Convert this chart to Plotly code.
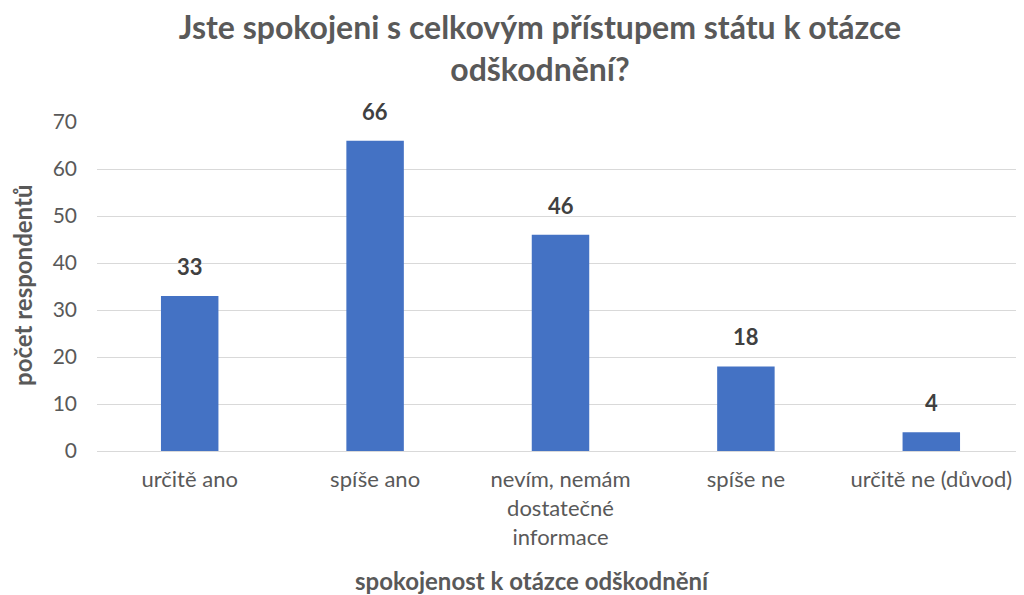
import plotly.graph_objects as go

categories = ["určitě ano", "spíše ano", "nevím, nemám<br>dostatečné<br>informace", "spíše ne", "určitě ne (důvod)"]
values = [33, 66, 46, 18, 4]
y_ticks = [0, 10, 20, 30, 40, 50, 60, 70]

FONT = "Lato, Roboto, Noto Sans, sans-serif"
GRAY = "#595959"

# the page body has an 8px margin, so the figure is 1016x587 and sits at (8, 8)
W, H = 1016, 587
L, T, B, R = 89, 114, 144, 0
PW, PH = W - L - R, H - T - B

fig = go.Figure(go.Bar(
    x=categories, y=values,
    marker=dict(color="#4472C4", line=dict(width=0)),
    hoverinfo="x+y",
))

for c, v in zip(categories, values):
    fig.add_annotation(
        x=c, y=v, xref="x", yref="y", text=str(v), showarrow=False,
        yanchor="bottom", yshift=14,
        font=dict(family=FONT, size=22, color="#404040", weight="bold"),
    )

fig.update_layout(
    width=W, height=H,
    paper_bgcolor="white", plot_bgcolor="white",
    margin=dict(l=L, r=R, t=T, b=B, autoexpand=False),
    bargap=0.69,
    showlegend=False,
    font=dict(family=FONT, color=GRAY),
    title=dict(
        text="Jste spokojeni s celkovým přístupem státu k otázce<br>odškodnění?",
        x=532 / W, xanchor="center", y=1 - 31 / H, yanchor="top",
        font=dict(family=FONT, size=32, color=GRAY, weight="bold"),
    ),
)

# axis titles
fig.add_annotation(
    text="počet respondentů", xref="paper", yref="paper",
    x=(14 - L) / PW, y=(443 - 278) / PH, xanchor="center", yanchor="middle",
    textangle=-90, showarrow=False,
    font=dict(family=FONT, size=24, color=GRAY, weight="bold"),
)
fig.add_annotation(
    text="spokojenost k otázce odškodnění", xref="paper", yref="paper",
    x=(524 - L) / PW, y=(443 - 572) / PH, xanchor="center", yanchor="middle",
    showarrow=False,
    font=dict(family=FONT, size=24, color=GRAY, weight="bold"),
)

fig.update_yaxes(
    range=[0, 70], tickvals=y_ticks, automargin=False,
    showgrid=True, gridcolor="#D9D9D9", gridwidth=1,
    zeroline=True, zerolinecolor="#D9D9D9", zerolinewidth=1,
    showline=False,
    tickfont=dict(family=FONT, size=21, color=GRAY),
    ticklabelstandoff=19,
)

fig.update_xaxes(
    automargin=False,
    showline=True, linecolor="#D9D9D9", linewidth=1,
    showgrid=False,
    tickfont=dict(family=FONT, size=22, color=GRAY),
    ticklabelstandoff=9,
)

fig.write_html("out.html")
